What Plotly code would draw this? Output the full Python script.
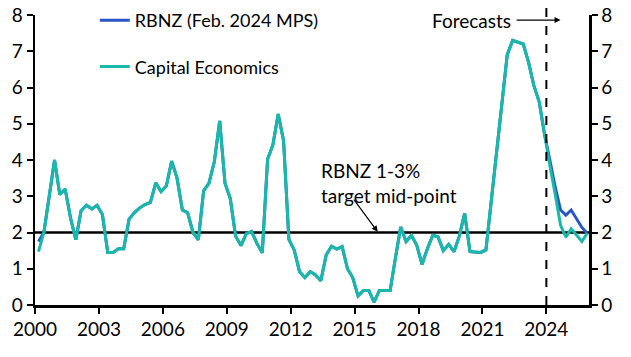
import pandas as pd
import plotly.graph_objects as go

# Quarterly dates (last month of each quarter), 2000Q1 - 2025Q4
dates = pd.date_range("2000-03-01", periods=104, freq="3MS")

history = [
    1.47, 2.0, 3.0, 4.0,          # 2000
    3.05, 3.2, 2.4, 1.8,          # 2001
    2.6, 2.75, 2.65, 2.75,        # 2002
    2.5, 1.45, 1.45, 1.55,        # 2003
    1.55, 2.37, 2.55, 2.68,       # 2004
    2.77, 2.83, 3.37, 3.13,       # 2005
    3.28, 3.97, 3.5, 2.62,        # 2006
    2.55, 2.0, 1.8, 3.15,         # 2007
    3.36, 3.95, 5.08, 3.36,       # 2008
    2.94, 1.9, 1.64, 1.97,        # 2009
    2.03, 1.7, 1.44, 4.02,        # 2010
    4.41, 5.27, 4.53, 1.81,       # 2011
    1.52, 0.92, 0.76, 0.92,       # 2012
    0.83, 0.67, 1.38, 1.62,       # 2013
    1.54, 1.61, 1.0, 0.75,        # 2014
    0.25, 0.4, 0.4, 0.08,         # 2015
    0.4, 0.4, 0.4, 1.3,           # 2016
    2.15, 1.75, 1.92, 1.65,       # 2017
    1.12, 1.55, 1.92, 1.88,       # 2018
    1.5, 1.67, 1.47, 1.9,         # 2019
    2.53, 1.47, 1.45, 1.45,       # 2020
    1.52, 2.9, 4.25, 5.65,        # 2021
    6.9, 7.3, 7.25, 7.2,          # 2022
    6.7, 6.05, 5.6, 4.7,          # 2023
]
ce_forecast = [3.85, 3.05, 2.2, 1.87, 2.1, 1.93, 1.75, 1.98]      # 2024-2025
rbnz_forecast = [4.0, 3.25, 2.62, 2.48, 2.62, 2.39, 2.14, 1.98]   # 2024-2025
rbnz_first = 1.75

capital_economics = history + ce_forecast
rbnz = [rbnz_first] + history[1:] + rbnz_forecast

x_ticks = [f"{y}-01-01" for y in range(2000, 2025, 3)]
x_labels = [str(y) for y in range(2000, 2025, 3)]
y_ticks = list(range(0, 9))

TEAL = "#19B9AA"
BLUE = "#2A55C8"
FONT = "Lato"
FS = 19

fig = go.Figure()
fig.add_trace(go.Scatter(x=dates, y=rbnz, mode="lines", name="RBNZ (Feb. 2024 MPS)",
                         line=dict(color=BLUE, width=3), yaxis="y", legendgroup="a"))
fig.add_trace(go.Scatter(x=dates, y=capital_economics, mode="lines", name="Capital Economics",
                         line=dict(color=TEAL, width=3), yaxis="y2", legendgroup="b"))

axis_common = dict(range=[0, 8], tickvals=y_ticks, showgrid=False, zeroline=False,
                   showline=True, linecolor="black", linewidth=2.5,
                   ticks="outside", ticklen=6, tickwidth=2, tickcolor="black",
                   tickfont=dict(family=FONT, size=FS, color="black"), fixedrange=True,
                   automargin=False, ticklabeloverflow="allow")

fig.update_layout(
    width=631, height=357,
    margin=dict(l=35, r=42, t=15, b=52, autoexpand=False),
    paper_bgcolor="white", plot_bgcolor="white",
    font=dict(family=FONT, size=FS, color="black"),
    showlegend=True,
    legend=dict(x=0.108, y=1.045, xanchor="left", yanchor="top", bgcolor="rgba(0,0,0,0)",
                font=dict(family=FONT, size=18, color="black"),
                tracegroupgap=20, traceorder="grouped"),
    xaxis=dict(range=["2000-01-01", "2026-01-01"], tickvals=x_ticks, ticktext=x_labels,
               showgrid=False, zeroline=False, showline=True, linecolor="black", linewidth=2.5,
               ticks="outside", ticklen=6, tickwidth=2, tickcolor="black", automargin=False,
               ticklabeloverflow="allow",
               tickfont=dict(family=FONT, size=FS, color="black")),
    yaxis=dict(**axis_common, side="left"),
    yaxis2=dict(**axis_common, side="right", overlaying="y"),
)

# 2% target mid-point line
fig.add_shape(type="line", xref="paper", yref="y", x0=0, x1=1, y0=2, y1=2,
              line=dict(color="black", width=2.5), layer="below")
# Forecast divider (runs up to the top edge of the image)
fig.add_shape(type="line", xref="x", yref="paper", x0="2024-01-01", x1="2024-01-01",
              y0=0, y1=1.06, line=dict(color="black", width=2, dash="dash"))

fig.add_annotation(x="2013-05-01", y=3.37, xref="x", yref="y", xanchor="left", yanchor="middle",
                   text="RBNZ 1-3%<br>target mid-point", showarrow=False, align="left",
                   font=dict(family=FONT, size=FS, color="black"))
fig.add_annotation(x="2016-02-01", y=2.02, ax="2014-12-01", ay=2.95, xref="x", yref="y",
                   axref="x", ayref="y", text="", showarrow=True, arrowhead=2, arrowsize=1,
                   arrowwidth=1.2, arrowcolor="black")
fig.add_annotation(x="2022-06-15", y=7.86, xref="x", yref="y", xanchor="right", yanchor="middle",
                   text="Forecasts", showarrow=False, font=dict(family=FONT, size=FS, color="black"))
fig.add_annotation(x="2024-09-01", y=7.86, ax="2022-07-15", ay=7.86, xref="x", yref="y",
                   axref="x", ayref="y", text="", showarrow=True, arrowhead=2, arrowsize=1,
                   arrowwidth=1.2, arrowcolor="black")

# remove the browser's default 8px body margin so the figure sits at the window's corner
fig.write_html("out.html", config={"displayModeBar": False, "staticPlot": True},
               post_script="document.body.style.margin='0';")
